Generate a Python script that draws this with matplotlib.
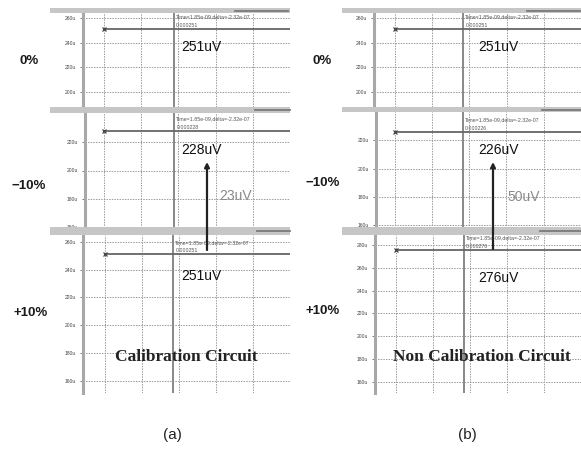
import matplotlib
matplotlib.use("Agg")
import matplotlib.pyplot as plt
from matplotlib.patches import Rectangle
from matplotlib.ticker import AutoMinorLocator

W, H = 581, 450
plt.rcParams['font.family'] = ['Liberation Sans', 'DejaVu Sans']

# ---- data ----
row_labels = ["0%", "\u221210%", "+10%"]
levels_cal = [251, 228, 251]          # uV, calibration circuit
levels_noncal = [251, 226, 276]       # uV, non calibration circuit
readout_cal = ["0.000251", "0.000228", "0.000251"]
readout_noncal = ["0.000251", "0.000226", "0.000276"]
delta_labels = ["23uV", "50uV"]
circuit_names = ["Calibration Circuit", "Non Calibration Circuit"]
sub_labels = ["(a)", "(b)"]
cursor_info = "Time=1.85e-09,delta=-2.32e-07"

yticks_cal = [[200, 220, 240, 260], [160, 180, 200, 220], [160, 180, 200, 220, 240, 260]]
yticks_noncal = [[200, 220, 240, 260], [160, 180, 200, 220], [160, 180, 200, 220, 240, 260, 280]]
ylims_cal = [(188, 264), (159, 241), (151, 265)]
ylims_noncal = [(188, 264), (158, 240), (150, 289)]
xlims_cal = [(-0.565, 4.52), (-0.51, 4.04), (-0.59, 3.91)]
xlims_noncal = [(-0.56, 4.52), (-0.50, 4.14), (-0.56, 4.05)]
cursor_cal = [1.87, 1.89, 1.85]
cursor_noncal = [1.84, 1.83, 1.83]
sweep = [0, 5]

# ---- layout (pixels) ----
boxes_cal = [(83, 13, 290, 107), (85, 113, 290, 228), (83, 235, 290, 393)]
boxes_noncal = [(374, 13, 581, 107), (376, 112, 581, 228), (375, 235, 581, 393)]

fig = plt.figure(figsize=(W / 100, H / 100), dpi=100)
fig.patch.set_facecolor('white')


def add_panel(box, ylim, yticks, xlim, level, cursor, readout):
    x0, y0, x1, y1 = box
    ax = fig.add_axes([x0 / W, 1 - y1 / H, (x1 - x0) / W, (y1 - y0) / H])
    ax.set_xlim(*xlim)
    ax.set_ylim(*ylim)
    ax.set_yticks(yticks)
    ax.set_yticklabels([f"{v}u" for v in yticks])
    ax.set_xticks(range(0, 6))
    ax.grid(True, color='#9a9a9a', linestyle=(0, (1.5, 1.2)), linewidth=0.7)
    ax.tick_params(axis='x', length=0, labelbottom=False)
    ax.tick_params(axis='y', which='major', length=2, width=0.6, color='#666',
                   labelsize=3.6, labelcolor='#444', pad=3)
    ax.yaxis.set_minor_locator(AutoMinorLocator(4))
    ax.tick_params(axis='y', which='minor', length=1.5, width=0.5, color='#777',
                   direction='inout')
    for s in ['top', 'right', 'bottom']:
        ax.spines[s].set_visible(False)
    ax.spines['left'].set_color('#a8a8a8')
    ax.spines['left'].set_linewidth(2.2)
    ax.axvline(cursor, color='#888888', linewidth=1.4, zorder=3)
    ax.plot(sweep, [level, level], color='#666666', linewidth=1.3, zorder=4)
    ax.plot([0], [level], marker='x', markersize=3, color='#444', mew=0.9, zorder=5)
    ax.annotate(cursor_info, xy=(cursor, level), xytext=(2, 12),
                textcoords='offset pixels', fontsize=3.8, color='#555',
                va='center', ha='left', annotation_clip=False, clip_on=True)
    ax.annotate(readout, xy=(cursor, level), xytext=(2, 3.5),
                textcoords='offset pixels', fontsize=3.8, color='#555',
                va='center', ha='left', annotation_clip=False, clip_on=True)
    return ax


for i in range(3):
    add_panel(boxes_cal[i], ylims_cal[i], yticks_cal[i], xlims_cal[i],
              levels_cal[i], cursor_cal[i], readout_cal[i])
    add_panel(boxes_noncal[i], ylims_noncal[i], yticks_noncal[i], xlims_noncal[i],
              levels_noncal[i], cursor_noncal[i], readout_noncal[i])

# ---- overlay (pixel coordinates) ----
ov = fig.add_axes([0, 0, 1, 1], zorder=10)
ov.set_xlim(0, W)
ov.set_ylim(H, 0)
ov.axis('off')
ov.patch.set_alpha(0)

bars = [((50, 8), 240, 5), ((50, 107), 240, 6), ((50, 227), 240, 8),
        ((342, 8), 239, 5), ((342, 107), 239, 5), ((342, 227), 239, 8)]
for (xy, w, h) in bars:
    ov.add_patch(Rectangle(xy, w, h, facecolor='#c6c6c6', edgecolor='none'))
scroll = [((235, 288), 10.5), ((255, 290), 110), ((257, 290), 231),
          ((527, 580), 10.5), ((542, 581), 109.5), ((540, 581), 230.5)]
for (xs, y) in scroll:
    ov.plot(xs, [y, y], color='#7a7a7a', linewidth=1.3)

# row labels
left_row_pos = [(29, 61), (29, 186), (31, 313)]
right_row_pos = [(322, 61), (323, 183), (323, 311)]
for i in range(3):
    ov.text(*left_row_pos[i], row_labels[i], fontsize=9.5, fontweight='bold',
            ha='center', va='center', color='#1a1a1a')
    ov.text(*right_row_pos[i], row_labels[i], fontsize=9.5, fontweight='bold',
            ha='center', va='center', color='#1a1a1a')

# value labels
val_pos_cal = [(181, 47), (181, 150), (181, 276)]
val_pos_noncal = [(478, 47), (478, 150), (478, 278)]
for i in range(3):
    ov.text(*val_pos_cal[i], f"{levels_cal[i]}uV", fontsize=10, ha='left', va='center', color='#111')
    ov.text(*val_pos_noncal[i], f"{levels_noncal[i]}uV", fontsize=10, ha='left', va='center', color='#111')

# delta arrows
arrows = [(207, 250, 162), (493, 249, 162)]
for (x, yb, yt) in arrows:
    ov.annotate("", xy=(x, yt), xytext=(x, yb),
                arrowprops=dict(arrowstyle='-|>', color='#222', lw=1.6,
                                mutation_scale=7, shrinkA=0, shrinkB=0))
delta_pos = [(219, 196), (507, 197)]
for i in range(2):
    ov.text(*delta_pos[i], delta_labels[i], fontsize=10, ha='left', va='center', color='#8a8a8a')

# circuit names
name_pos = [(186, 357), (482, 357)]
for i in range(2):
    ov.text(*name_pos[i], circuit_names[i], fontsize=12.5, fontweight='bold',
            family='Liberation Serif', ha='center', va='center', color='#222')

# sub labels
sub_pos = [(172, 435), (467, 435)]
for i in range(2):
    ov.text(*sub_pos[i], sub_labels[i], fontsize=11, ha='center', va='center', color='#222')

fig.savefig("out.png", dpi=100)
